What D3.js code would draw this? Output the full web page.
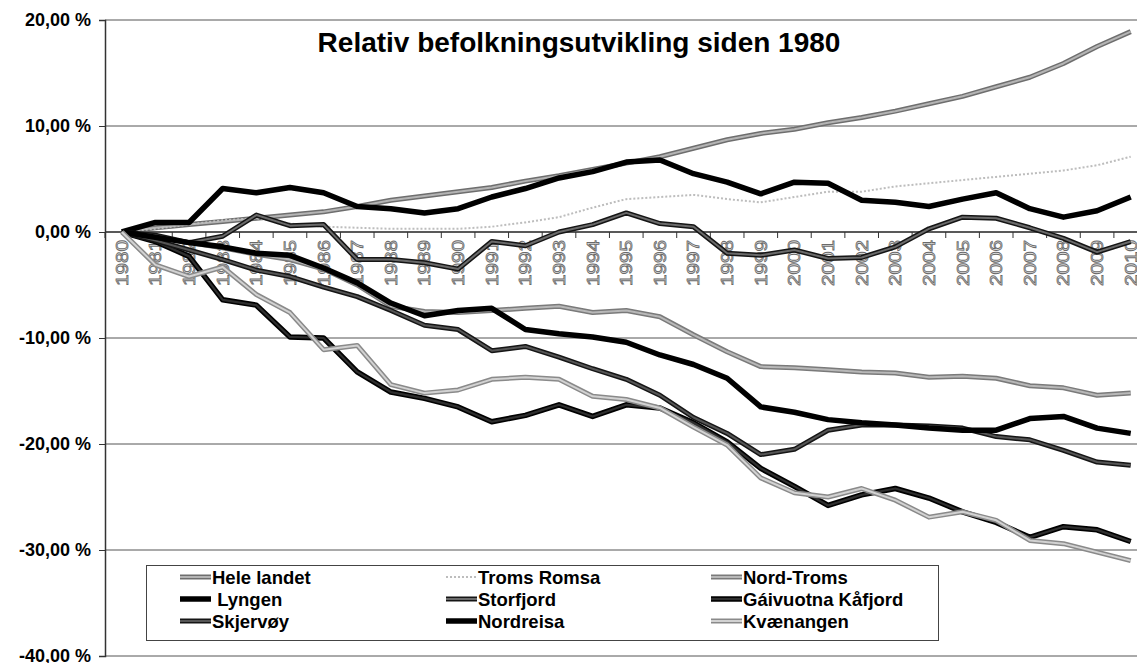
<!DOCTYPE html>
<html>
<head>
<meta charset="utf-8">
<script src="https://cdn.jsdelivr.net/npm/d3@7"></script>
<style>
  body { margin: 0; background: #fff; }
  svg { display: block; font-family: "Liberation Sans", Arial, sans-serif; }
</style>
</head>
<body>
<div id="chart"></div>
<script>
// kategorier (år)
const years = ["1980", "1981", "1982", "1983", "1984", "1985", "1986", "1987", "1988", "1989",
    "1990", "1991", "1992", "1993", "1994", "1995", "1996", "1997", "1998", "1999",
    "2000", "2001", "2002", "2003", "2004", "2005", "2006", "2007", "2008", "2009", "2010"];

// prosent endring siden 1980
const heleLandet = [0, 0.4, 0.7, 1.0, 1.3, 1.6, 1.9, 2.4, 3.0, 3.4, 3.8, 4.2, 4.8, 5.3, 5.9, 6.5,
    7.1, 7.9, 8.7, 9.3, 9.7, 10.3, 10.8, 11.4, 12.1, 12.8, 13.7, 14.6, 15.9, 17.5, 18.9];
const tromsRomsa = [0, 0.3, 0.7, 1.1, 1.3, 0.8, 0.5, 0.4, 0.3, 0.3, 0.3, 0.5, 0.9, 1.4, 2.3, 3.1,
    3.3, 3.5, 3.1, 2.8, 3.3, 3.8, 3.8, 4.3, 4.6, 4.9, 5.2, 5.5, 5.8, 6.3, 7.1];
const nordTroms = [0, -0.5, -1.0, -1.5, -2.1, -2.6, -3.5, -5.0, -7.0, -7.5, -7.6, -7.4, -7.2, -7.0, -7.6, -7.4,
    -8.0, -9.7, -11.3, -12.7, -12.8, -13.0, -13.2, -13.3, -13.7, -13.6, -13.8, -14.5, -14.7, -15.4, -15.2];
const lyngen = [0, 0.9, 0.9, 4.1, 3.7, 4.2, 3.7, 2.4, 2.2, 1.8, 2.2, 3.3, 4.1, 5.1, 5.7, 6.6,
    6.8, 5.5, 4.7, 3.6, 4.7, 4.6, 3.0, 2.8, 2.4, 3.1, 3.7, 2.2, 1.4, 2.0, 3.3];
const storfjord = [0, -0.3, -1.0, -0.4, 1.6, 0.6, 0.7, -2.6, -2.6, -2.9, -3.5, -0.9, -1.3, 0.0, 0.7, 1.8,
    0.8, 0.5, -2.0, -2.2, -1.7, -2.5, -2.4, -1.4, 0.3, 1.4, 1.3, 0.4, -0.6, -1.9, -0.9];
const kafjord = [0, -0.9, -2.3, -6.4, -6.9, -9.9, -10.0, -13.2, -15.1, -15.7, -16.5, -17.9, -17.3, -16.3, -17.4, -16.3,
    -16.6, -18.0, -19.8, -22.3, -24.0, -25.8, -24.8, -24.2, -25.1, -26.4, -27.4, -28.8, -27.8, -28.1, -29.2];
const skjervoy = [0, -0.8, -1.7, -2.6, -3.6, -4.2, -5.2, -6.1, -7.4, -8.8, -9.2, -11.2, -10.8, -11.8, -12.9, -13.9,
    -15.4, -17.5, -19.0, -21.0, -20.5, -18.7, -18.2, -18.2, -18.3, -18.5, -19.3, -19.6, -20.6, -21.7, -22.0];
const nordreisa = [0, -0.5, -1.0, -1.4, -2.0, -2.2, -3.4, -4.8, -6.7, -7.9, -7.4, -7.2, -9.2, -9.6, -9.9, -10.4,
    -11.6, -12.5, -13.8, -16.5, -17.0, -17.7, -18.0, -18.2, -18.5, -18.7, -18.7, -17.6, -17.4, -18.5, -19.0];
const kvaenangen = [0, -3.1, -4.2, -3.3, -5.9, -7.6, -11.1, -10.7, -14.4, -15.2, -14.9, -13.9, -13.7, -13.9, -15.5, -15.8,
    -16.6, -18.4, -20.1, -23.2, -24.6, -25.0, -24.2, -25.3, -26.9, -26.4, -27.2, -29.1, -29.4, -30.2, -31.0];

// y-akse
const yTicks = [20, 10, 0, -10, -20, -30, -40];

// serier i tegne-rekkefølge (legend: rad for rad)
const seriesNames = ["Hele landet", "Troms Romsa", "Nord-Troms", "Lyngen", "Storfjord",
    "Gáivuotna Kåfjord", "Skjervøy", "Nordreisa", "Kvænangen"];
const seriesValues = [heleLandet, tromsRomsa, nordTroms, lyngen, storfjord,
    kafjord, skjervoy, nordreisa, kvaenangen];
const legendLabels = ["Hele landet", "Troms Romsa", "Nord-Troms", " Lyngen", "Storfjord",
    "Gáivuotna Kåfjord", "Skjervøy", "Nordreisa", "Kvænangen"];

// linjestiler
const styles = [
    { outer: "#6e6e6e", inner: "#b4b4b4", w: 5 },
    { outer: "#bdbdbd", w: 2, dash: "2,2" },
    { outer: "#7a7a7a", inner: "#b8b8b8", w: 5 },
    { outer: "#000", w: 5.5 },
    { outer: "#151515", inner: "#6a6a6a", w: 5 },
    { outer: "#000", inner: "#2e2e2e", w: 5.5 },
    { outer: "#151515", inner: "#555", w: 5 },
    { outer: "#000", w: 5.5 },
    { outer: "#8a8a8a", inner: "#d2d2d2", w: 5 }
];

const W = 1137, H = 663;
const plotLeft = 105, plotTop = 20, plotBottom = 656;
const step = 33.63;

const svg = d3.select("#chart").append("svg")
    .attr("width", W)
    .attr("height", H);

const x = d3.scaleBand()
    .domain(years)
    .range([plotLeft, plotLeft + step * years.length]);
const xc = (d) => x(d) + x.bandwidth() / 2;

const y = d3.scaleLinear()
    .domain([-40, 20])
    .range([plotBottom, plotTop]);

const locale = d3.formatLocale({ decimal: ",", thousands: " ", grouping: [3], currency: ["", ""], minus: "-" });
const fmt = locale.format(".2f");

// rutenett
svg.append("g")
    .selectAll("line")
    .data(yTicks)
    .enter()
    .append("line")
    .attr("x1", plotLeft)
    .attr("x2", W)
    .attr("y1", (d) => y(d))
    .attr("y2", (d) => y(d))
    .attr("stroke", (d) => (d === 0 ? "#222" : "#555"))
    .attr("stroke-width", (d) => (d === 0 ? 1.5 : 1));

// y-akse
const yAxis = svg.append("g")
    .attr("transform", "translate(" + plotLeft + ",0)")
    .call(d3.axisLeft(y).tickValues(yTicks).tickSize(6).tickFormat((d) => fmt(d) + " %"));
yAxis.select(".domain").attr("stroke", "#333").attr("stroke-width", 1.5);
yAxis.selectAll(".tick line").attr("stroke", "#333");
yAxis.selectAll(".tick text")
    .attr("x", -14)
    .style("font-size", "18px")
    .style("font-weight", "bold")
    .style("font-family", "'Liberation Sans', Arial, sans-serif")
    .attr("fill", "#000");

// x-akse ved 0
const xAxis = svg.append("g").attr("transform", "translate(0," + y(0) + ")");
xAxis.selectAll("line")
    .data(years)
    .enter()
    .append("line")
    .attr("x1", (d) => x(d))
    .attr("x2", (d) => x(d))
    .attr("y1", 0)
    .attr("y2", 6)
    .attr("stroke", "#333");
xAxis.selectAll("text")
    .data(years)
    .enter()
    .append("text")
    .attr("transform", (d) => "translate(" + xc(d) + ",8) rotate(-90)")
    .attr("dy", "0.35em")
    .attr("text-anchor", "end")
    .attr("textLength", 46)
    .attr("lengthAdjust", "spacingAndGlyphs")
    .style("font-size", "17px")
    .attr("fill", "#e4e4e4")
    .attr("stroke", "#6a6a6a")
    .attr("stroke-width", 0.8)
    .text((d) => d);

// linjer
const line = d3.line()
    .x((d, i) => xc(years[i]))
    .y((d) => y(d));

const lines = svg.append("g");
seriesValues.forEach((vals, k) => {
    const s = styles[k];
    lines.append("path")
        .datum(vals)
        .attr("d", line)
        .attr("fill", "none")
        .attr("stroke", s.outer)
        .attr("stroke-width", s.w)
        .attr("stroke-dasharray", s.dash || null)
        .attr("stroke-linejoin", "round");
    if (s.inner) {
        lines.append("path")
            .datum(vals)
            .attr("d", line)
            .attr("fill", "none")
            .attr("stroke", s.inner)
            .attr("stroke-width", s.w * 0.4)
            .attr("stroke-linejoin", "round");
    }
});

// tittel
svg.append("text")
    .attr("x", 579)
    .attr("y", 52)
    .attr("text-anchor", "middle")
    .style("font-size", "28px")
    .style("font-weight", "bold")
    .text("Relativ befolkningsutvikling siden 1980");

// legend
const legend = svg.append("g");
legend.append("rect")
    .attr("x", 146.5)
    .attr("y", 565.5)
    .attr("width", 792)
    .attr("height", 75)
    .attr("fill", "#fff")
    .attr("stroke", "#444")
    .attr("stroke-width", 1);

const colX = [180, 446, 711];
const rowY = [577, 599, 621];
seriesNames.forEach((name, k) => {
    const cx = colX[k % 3], cy = rowY[Math.floor(k / 3)];
    const s = styles[k];
    const g = legend.append("g");
    g.append("line")
        .attr("x1", cx).attr("x2", cx + 31)
        .attr("y1", cy).attr("y2", cy)
        .attr("stroke", s.outer)
        .attr("stroke-width", s.w)
        .attr("stroke-dasharray", s.dash || null);
    if (s.inner) {
        g.append("line")
            .attr("x1", cx).attr("x2", cx + 31)
            .attr("y1", cy).attr("y2", cy)
            .attr("stroke", s.inner)
            .attr("stroke-width", s.w * 0.4);
    }
    g.append("text")
        .attr("x", cx + 32)
        .attr("y", cy + 7)
        .style("font-size", "18.5px")
        .style("font-weight", "bold")
        .style("white-space", "pre")
        .attr("xml:space", "preserve")
        .text(legendLabels[k]);
});
</script>
</body>
</html>
